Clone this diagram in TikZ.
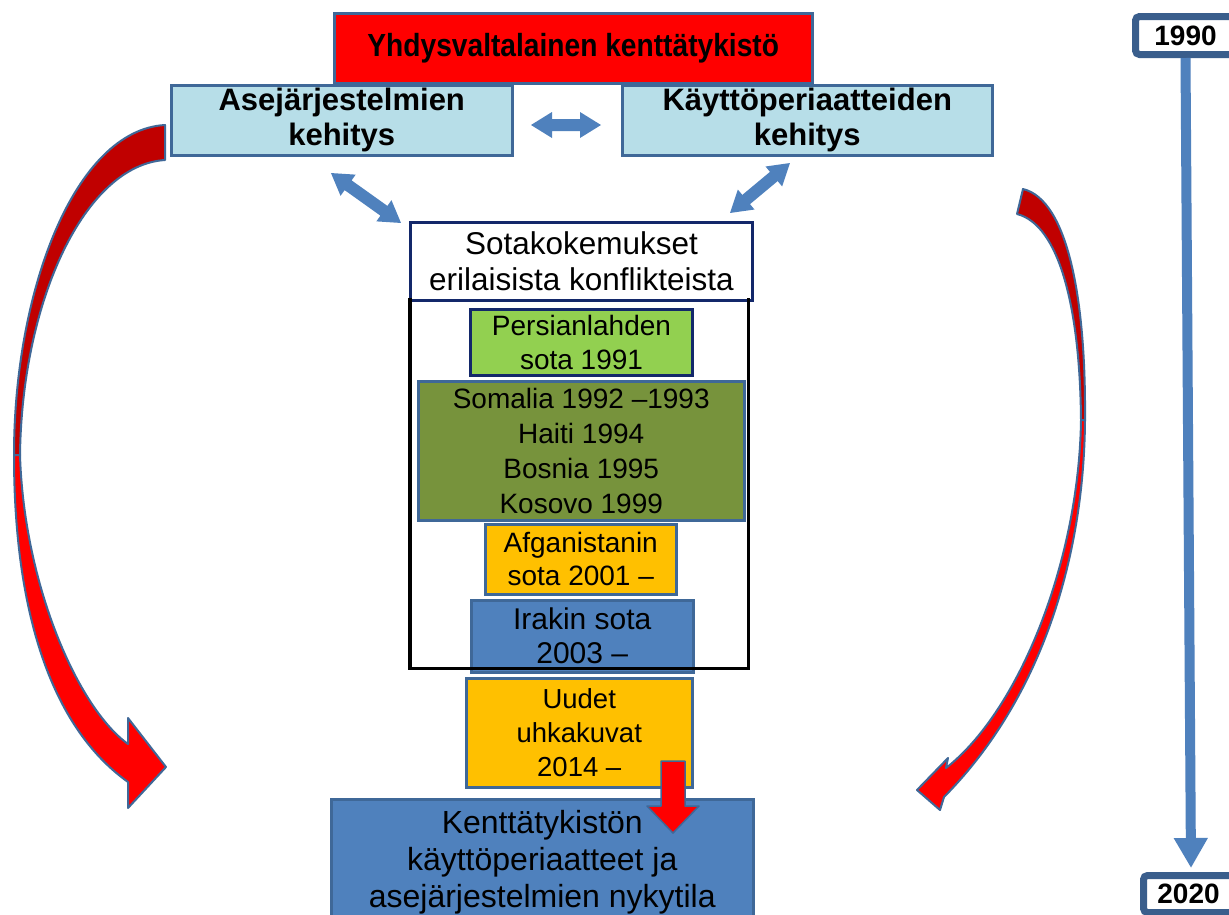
\documentclass[tikz,border=0pt]{standalone}
\usepackage{fontspec}
\setmainfont{Liberation Sans}
\newfontfamily\narrowsans{Liberation Sans}[FakeStretch=0.88]
\usetikzlibrary{arrows.meta}
\definecolor{bordc}{HTML}{3F6898}
\definecolor{navyc}{HTML}{13286A}
\definecolor{ltblue}{HTML}{B7DEE8}
\definecolor{grn}{HTML}{92D050}
\definecolor{olivec}{HTML}{77933C}
\definecolor{orng}{HTML}{FFC000}
\definecolor{accblue}{HTML}{4F81BD}
\definecolor{dkred}{HTML}{C00000}
\definecolor{tlbord}{HTML}{3A5E8C}
\newcommand{\setfs}[2]{\fontsize{#1}{#2}\selectfont}
\newcommand{\dblarr}[4]{%
  \begin{scope}[shift={(#1,#2)},rotate=#3]
    \fill[accblue] (-#4,0) -- (-#4+21,13) -- (-#4+21,6) -- (#4-21,6) -- (#4-21,13) -- (#4,0)
      -- (#4-21,-13) -- (#4-21,-6) -- (-#4+21,-6) -- (-#4+21,-13) -- cycle;
  \end{scope}}
\begin{document}
\begin{tikzpicture}[x=1pt,y=-1pt,
  box/.style={draw=bordc, line width=2.5pt, inner sep=0pt, align=center, anchor=north west},
  curvarr/.style={draw=bordc, line width=2pt, line join=round},
  yearbox/.style={draw=tlbord, line width=7pt, fill=white, rounded corners=4pt, inner sep=0pt,
     anchor=north west, font=\bfseries\setfs{28}{30}}]
\useasboundingbox[fill=white] (0,0) rectangle (1229,914);

% top boxes
\node[box, fill=red, minimum width=478pt, minimum height=70pt, font=\narrowsans\bfseries\setfs{32}{34}] (title) at (333,12) {Yhdysvaltalainen kenttätykistö};
\node[box, fill=ltblue, minimum width=341pt, minimum height=70pt, font=\bfseries\setfs{31}{35}] (ase) at (170,84) {Asejärjestelmien\\kehitys};
\node[box, fill=ltblue, minimum width=370pt, minimum height=70pt, font=\bfseries\setfs{31}{35}] (kay) at (621,84) {Käyttöperiaatteiden\\kehitys};

% blue double arrows
\dblarr{566}{125}{0}{35}
\dblarr{366}{198}{-35.5}{43}
\dblarr{760}{188}{39.8}{39}

% experiences
\node[inner sep=0pt, minimum width=338pt, minimum height=370pt, anchor=north west] (frame) at (410,298) {};
\node[box, draw=navyc, line width=3pt, fill=white, minimum width=342pt, minimum height=78pt, font=\setfs{31.5}{36}] (sota) at (409,221) {Sotakokemukset\\erilaisista konflikteista};
\node[box, draw=navyc, line width=3pt, fill=grn, minimum width=222pt, minimum height=66pt, font=\setfs{28}{34}] (pers) at (469,308) {Persianlahden\\sota 1991};
\node[box, fill=olivec, minimum width=326pt, minimum height=139pt, font=\setfs{28}{35}] (som) at (417,380) {Somalia 1992 –1993\\Haiti 1994\\Bosnia 1995\\Kosovo 1999};
\node[box, fill=orng, minimum width=191pt, minimum height=70pt, font=\setfs{28}{33}] (afg) at (484,523) {Afganistanin\\sota 2001 –};
\node[box, fill=accblue, minimum width=222pt, minimum height=72pt, font=\setfs{30}{34}] (irak) at (470,599) {Irakin sota\\2003 –};
\draw[black, line width=3.5pt] (frame.north west) -- (frame.south west) -- (frame.south east) -- (frame.north east);
\node[box, fill=orng, minimum width=226pt, minimum height=109pt, font=\setfs{27.5}{34}] (uud) at (465,677) {Uudet\\uhkakuvat\\2014 –};
\node[box, fill=accblue, minimum width=422pt, minimum height=126pt, font=\setfs{32}{37}] (kent) at (330,798) {Kenttätykistön\\käyttöperiaatteet ja\\asejärjestelmien nykytila};

% red down arrow
\draw[curvarr, line width=1.5pt, fill=red] (661,761) -- (685,761) -- (685,806) -- (699,806) -- (673,833) -- (647,806) -- (661,806) -- cycle;

% left curved arrow
\draw[curvarr, fill=dkred] (165,125) .. controls (75,130) and (14,290) .. (14,455) -- (20,455) .. controls (22,300) and (85,165) .. (165,160) -- cycle;
\draw[curvarr, fill=red] (14,455) .. controls (14,620) and (55,730) .. (128,782) -- (128,808) -- (166,767) -- (128,718) -- (128,744) .. controls (78,708) and (24,585) .. (20,455) -- cycle;

% right curved arrow
\draw[curvarr, fill=dkred] (1023,189) .. controls (1068,200) and (1086,300) .. (1085,420) -- (1081,420) .. controls (1080,310) and (1060,225) .. (1017,214) -- cycle;
\draw[curvarr, fill=red] (1085,420) .. controls (1084,560) and (1040,700) .. (944,797) -- (940,810) -- (917,790) -- (948,758) -- (946,768) .. controls (1020,710) and (1079,560) .. (1081,420) -- cycle;

% timeline
\node[yearbox, minimum width=100pt, minimum height=38pt] (y1990) at (1132,13) {1990};
\node[yearbox, minimum width=90pt, minimum height=37pt] (y2020) at (1140,872) {2020};
\coordinate (tlend) at (1191,868);
\draw[accblue, line width=10pt, -{Triangle[width=32pt,length=30pt]}] (y1990.south) -- (tlend);
\end{tikzpicture}
\end{document}
